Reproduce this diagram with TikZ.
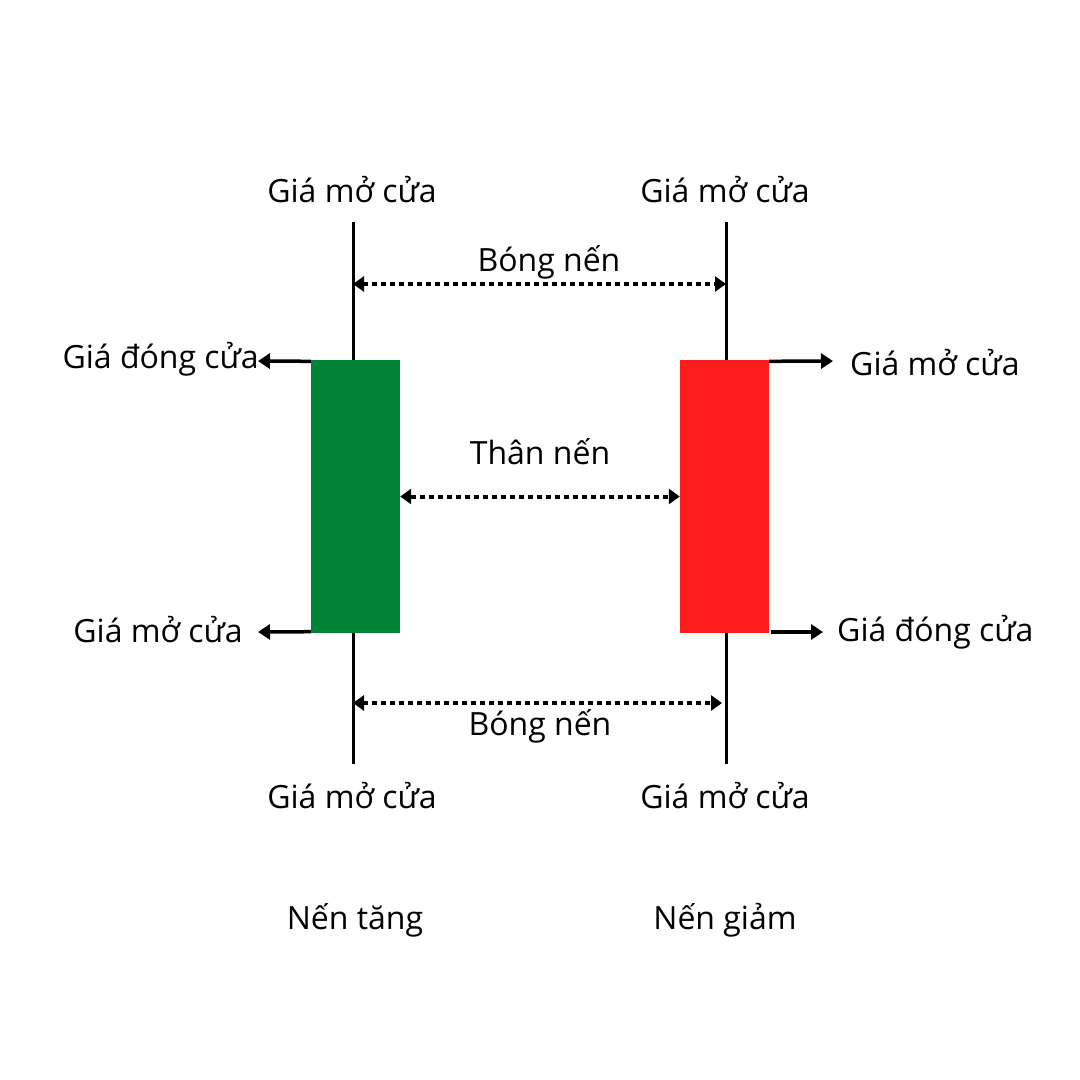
\documentclass[tikz,border=0pt]{standalone}
\usepackage{fontspec}
\setmainfont{Open Sans}
\usetikzlibrary{arrows.meta}
\definecolor{upgreen}{HTML}{008236}
\definecolor{downred}{HTML}{FF1C1C}
\tikzset{
  lbl/.style={font=\fontsize{32}{38}\selectfont, inner sep=0pt, text=black},
  wick/.style={line width=3pt, black},
  ptr/.style={line width=3.5pt, -{Triangle[length=12pt,width=15pt]}},
  span/.style={line width=4pt, dash pattern=on 5pt off 4pt, {Triangle[length=11pt,width=15pt]}-{Triangle[length=11pt,width=15pt]}},
  body/.style={inner sep=0pt, minimum width=89pt, minimum height=273pt, draw=none}
}
\begin{document}
\begin{tikzpicture}[x=1pt,y=-1pt]
\useasboundingbox[fill=white] (0,0) rectangle (1080,1080);
% wicks
\coordinate (lt) at (353,222); \coordinate (lb) at (353,764);
\coordinate (rt) at (726,222); \coordinate (rb) at (726,764);
\draw[wick] (lt) -- (lb);
\draw[wick] (rt) -- (rb);
% bodies
\node[body, fill=upgreen] (green) at (355.5,496.5) {};
\node[body, fill=downred] (red) at (724.5,496.5) {};
% top / bottom labels
\node[lbl] (lt1) at (352,190) {Giá mở cửa};
\node[lbl] (rt1) at (725,190) {Giá mở cửa};
\node[lbl] (lb1) at (352,796) {Giá mở cửa};
\node[lbl] (rb1) at (725,796) {Giá mở cửa};
\node[lbl] (up) at (355,920) {Nến tăng};
\node[lbl] (down) at (725,920) {Nến giảm};
% side labels
\node[lbl, anchor=east] (lclose) at (259,359) {Giá đóng cửa};
\node[lbl, anchor=east] (lopen) at (243,630) {Giá mở cửa};
\node[lbl, anchor=west] (ropen) at (850,363) {Giá mở cửa};
\node[lbl, anchor=west] (rclose) at (837,632) {Giá đóng cửa};
% side pointers
\coordinate (a1) at (258,361); \coordinate (a2) at (258,632);
\coordinate (a3) at (833,361); \coordinate (a4) at (823,632);
\draw[ptr] (green.north west) ++(0,1.5) -- (a1);
\draw[ptr] (green.south west) ++(0,-1.5) -- (a2);
\draw[ptr] (red.north east) ++(0,1.5) -- (a3);
\draw[ptr] (771,632) -- (a4);
% spans
\node[lbl] (shadowtop) at (549,262) {Bóng nến};
\node[lbl] (bodylbl) at (540,452) {Thân nến};
\node[lbl] (shadowbot) at (540,726) {Bóng nến};
\coordinate (s1a) at (353,284); \coordinate (s1b) at (726,284);
\coordinate (s3a) at (353,703); \coordinate (s3b) at (722,703);
\draw[span] (s1a) -- (s1b);
\draw[span] (green.east) -- (red.west);
\draw[span] (s3a) -- (s3b);
\end{tikzpicture}
\end{document}
